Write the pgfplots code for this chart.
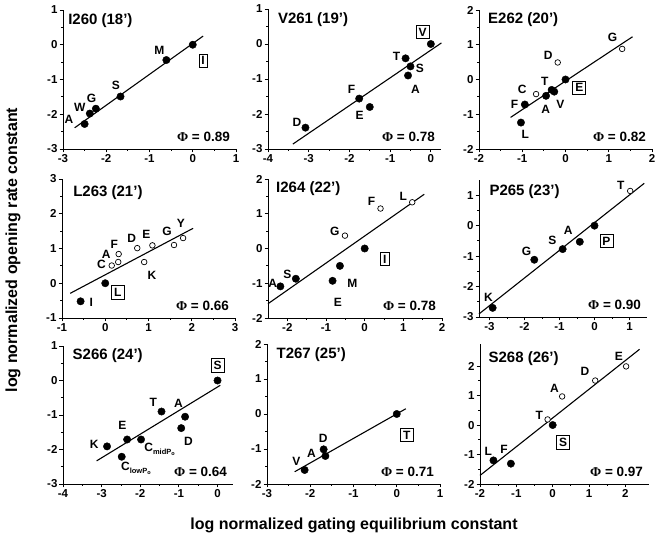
\documentclass[border=0pt]{standalone}
\usepackage{fontspec}
\setmainfont{Liberation Sans}
\newfontfamily\serif{Liberation Serif}
\usepackage{pgfplots}
\pgfplotsset{compat=1.18}

\newcommand\lab[3]{\node[font=\bfseries\fontsize{12}{12}\selectfont] at (axis cs:#1,#2) {#3};}
\newcommand\boxlab[3]{\node[draw, line width=0.7pt, inner sep=2.5pt, font=\bfseries\fontsize{12}{12}\selectfont] at (axis cs:#1,#2) {#3};}
\newcommand\ttl[3]{\node[anchor=west, font=\bfseries\fontsize{15}{15}\selectfont] at (axis cs:#1,#2) {#3};}
\newcommand\phival[1]{\node[anchor=east, font=\bfseries\fontsize{13.5}{13.5}\selectfont] at (rel axis cs:0.985,0.085) {{\serif\bfseries Φ} = #1};}
\newcommand\sub[1]{C\raisebox{-2.5pt}{\fontsize{7.5}{7.5}\selectfont #1P\raisebox{-1.5pt}{\fontsize{5.5}{5.5}\selectfont o}}}

\pgfplotsset{
  panel/.style={
    scale only axis, anchor=south west, clip=false,
    axis lines=left, axis line style={-, line width=0.9pt},
    tick align=outside, minor tick num=1,
    major tick length=3.5pt, minor tick length=2pt,
    every tick/.style={black, line width=0.9pt},
    ticklabel style={font=\bfseries\fontsize{11.5}{11.5}\selectfont},
    /pgf/number format/assume math mode=true,
    xticklabel style={yshift=1.5pt}, yticklabel style={xshift=1.5pt},
  },
  fit/.style={black, line width=1.1pt, no marks},
  full/.style={only marks, mark=*, mark size=3.7pt, mark options={fill=black, draw=black}},
  hollow/.style={only marks, mark=*, mark size=2.8pt, mark options={fill=white, draw=black, line width=0.7pt}},
}

\begin{document}
\begin{tikzpicture}
\path (0pt,0pt) rectangle (662pt,537pt);

% ---------- row 1 ----------
\begin{axis}[panel, at={(63pt,388pt)}, width=173pt, height=139pt,
  xmin=-3, xmax=1, ymin=-3, ymax=1, xtick={-3,...,1}, ytick={-3,...,1}]
\addplot[fit] coordinates {(-2.73,-2.39) (0.24,0.25)};
\addplot[full] coordinates {(0,0) (-0.61,-0.44) (-1.67,-1.49) (-2.24,-1.84) (-2.38,-1.98) (-2.5,-2.28)};
\lab{-0.77}{-0.17}{M} \lab{-1.78}{-1.16}{S} \lab{-2.34}{-1.54}{G} \lab{-2.61}{-1.8}{W} \lab{-2.86}{-2.14}{A}
\boxlab{0.24}{-0.46}{I}
\ttl{-2.96}{0.69}{I260 (18’)}
\phival{0.89}
\end{axis}

\begin{axis}[panel, at={(268pt,388pt)}, width=173pt, height=140pt,
  xmin=-4, xmax=0.25, ymin=-3, ymax=1, xtick={-4,...,0}, ytick={-3,...,1}]
\addplot[fit] coordinates {(-3.39,-2.86) (0.26,0.03)};
\addplot[full] coordinates {(0,0) (-0.62,-0.41) (-0.5,-0.64) (-0.56,-0.9) (-1.76,-1.56) (-1.5,-1.8) (-3.08,-2.39)};
\lab{-0.84}{-0.34}{T} \lab{-0.27}{-0.71}{S} \lab{-0.38}{-1.29}{A} \lab{-1.95}{-1.31}{F} \lab{-1.75}{-2.05}{E} \lab{-3.29}{-2.24}{D}
\boxlab{-0.2}{0.34}{V}
\ttl{-3.84}{0.71}{V261 (19’)}
\phival{0.78}
\end{axis}

\begin{axis}[panel, at={(479pt,388pt)}, width=173pt, height=139pt,
  xmin=-2, xmax=2, ymin=-2, ymax=2, xtick={-2,...,2}, ytick={-2,...,2}]
\addplot[fit] coordinates {(-1.27,-1.09) (1.55,1.23)};
\addplot[full] coordinates {(0,0) (-0.32,-0.3) (-0.26,-0.35) (-0.45,-0.47) (-0.94,-0.72) (-1.03,-1.24)};
\addplot[hollow] coordinates {(-0.68,-0.42) (-0.18,0.49) (1.31,0.88)};
\lab{1.09}{1.21}{G} \lab{-0.4}{0.68}{D} \lab{-0.48}{-0.04}{T} \lab{-1.0}{-0.28}{C} \lab{-1.18}{-0.71}{F}
\lab{-0.46}{-0.85}{A} \lab{-0.12}{-0.71}{V} \lab{-0.93}{-1.57}{L}
\boxlab{0.32}{-0.24}{E}
\ttl{-1.87}{1.71}{E262 (20’)}
\phival{0.82}
\end{axis}

% ---------- row 2 ----------
\begin{axis}[panel, at={(62pt,219pt)}, width=173pt, height=139pt,
  xmin=-1, xmax=3, ymin=-1, ymax=3, xtick={-1,...,3}, ytick={-1,...,3}]
\addplot[fit] coordinates {(-0.81,-0.29) (2.03,1.58)};
\addplot[full] coordinates {(0,0) (-0.57,-0.52)};
\addplot[hollow] coordinates {(0.15,0.51) (0.3,0.61) (0.31,0.84) (0.74,1.01) (1.09,1.09) (0.9,0.61) (1.59,1.1) (1.8,1.3)};
\lab{-0.09}{0.53}{C} \lab{0.02}{0.84}{A} \lab{0.21}{1.13}{F} \lab{0.61}{1.28}{D} \lab{0.95}{1.42}{E}
\lab{1.43}{1.49}{G} \lab{1.75}{1.71}{Y} \lab{1.08}{0.24}{K} \lab{-0.32}{-0.55}{I}
\boxlab{0.29}{-0.26}{L}
\ttl{-0.82}{2.62}{L263 (21’)}
\phival{0.66}
\end{axis}

\begin{axis}[panel, at={(268pt,219pt)}, width=174pt, height=139pt,
  xmin=-2.5, xmax=2, ymin=-2, ymax=2, xtick={-2,...,2}, ytick={-2,...,2}]
\addplot[fit] coordinates {(-2.5,-1.59) (1.54,1.56)};
\addplot[full] coordinates {(0,0) (-0.64,-0.5) (-0.83,-0.93) (-1.78,-0.87) (-2.18,-1.09)};
\addplot[hollow] coordinates {(-0.51,0.37) (0.41,1.15) (1.23,1.33)};
\lab{-2.38}{-0.99}{A} \lab{-2.0}{-0.75}{S} \lab{-0.77}{0.49}{G} \lab{0.18}{1.36}{F} \lab{1.0}{1.5}{L}
\lab{-0.32}{-0.99}{M} \lab{-0.69}{-1.55}{E}
\boxlab{0.52}{-0.3}{I}
\ttl{-2.38}{1.73}{I264 (22’)}
\phival{0.78}
\end{axis}

\begin{axis}[panel, at={(479pt,220pt)}, width=168pt, height=137pt,
  xmin=-3.3, xmax=1.5, ymin=-3, ymax=1.5, xtick={-3,...,1}, ytick={-3,...,1}]
\addplot[fit] coordinates {(-3.3,-2.9) (1.42,1.39)};
\addplot[full] coordinates {(0,0) (-0.42,-0.53) (-0.91,-0.77) (-1.72,-1.12) (-2.91,-2.7)};
\addplot[hollow] coordinates {(1.02,1.14)};
\lab{0.75}{1.33}{T} \lab{-0.75}{-0.17}{A} \lab{-1.2}{-0.49}{S} \lab{-1.94}{-0.85}{G} \lab{-3.03}{-2.36}{K}
\boxlab{0.34}{-0.51}{P}
\ttl{-3.1}{1.11}{P265 (23’)}
\phival{0.90}
\end{axis}

% ---------- row 3 ----------
\begin{axis}[panel, at={(63pt,53pt)}, width=170pt, height=138pt,
  xmin=-4, xmax=0.4, ymin=-3, ymax=1, xtick={-4,...,0}, ytick={-3,...,1}]
\addplot[fit] coordinates {(-3.13,-2.33) (0.07,-0.14)};
\addplot[full] coordinates {(0,0) (-1.45,-0.9) (-0.84,-1.05) (-0.94,-1.38) (-2.34,-1.71) (-1.98,-1.71) (-2.48,-2.21) (-2.86,-1.91)};
\lab{-1.66}{-0.62}{T} \lab{-1.01}{-0.65}{A} \lab{-2.46}{-1.31}{E} \lab{-3.19}{-1.85}{K} \lab{-0.75}{-1.76}{D}
\node[anchor=west, font=\bfseries\fontsize{12}{12}\selectfont, inner sep=0pt] at (axis cs:-1.9,-2.0) {\sub{mid}};
\node[anchor=west, font=\bfseries\fontsize{12}{12}\selectfont, inner sep=0pt] at (axis cs:-2.5,-2.56) {\sub{low}};
\boxlab{0}{0.44}{S}
\ttl{-3.84}{0.71}{S266 (24’)}
\phival{0.64}
\end{axis}

\begin{axis}[panel, at={(267pt,53pt)}, width=173pt, height=140pt,
  xmin=-3, xmax=1, ymin=-2, ymax=2, xtick={-3,...,1}, ytick={-2,...,2}]
\addplot[fit] coordinates {(-2.36,-1.65) (0.21,0.15)};
\addplot[full] coordinates {(0,0) (-1.69,-1.01) (-1.65,-1.2) (-2.13,-1.6)};
\lab{-1.7}{-0.7}{D} \lab{-1.97}{-1.12}{A} \lab{-2.32}{-1.34}{V}
\boxlab{0.23}{-0.6}{T}
\ttl{-2.86}{1.69}{T267 (25’)}
\phival{0.71}
\end{axis}

\begin{axis}[panel, at={(480pt,53pt)}, width=169pt, height=140pt,
  xmin=-2, xmax=2.65, ymin=-2, ymax=2.75, xtick={-2,...,2}, ytick={-2,...,2}]
\addplot[fit] coordinates {(-2,-1.71) (2.39,2.57)};
\addplot[full] coordinates {(0,0) (-1.63,-1.2) (-1.15,-1.31)};
\addplot[hollow] coordinates {(-0.14,0.19) (0.26,0.97) (1.17,1.51) (2.02,1.99)};
\lab{1.82}{2.33}{E} \lab{0.89}{1.83}{D} \lab{0.05}{1.26}{A} \lab{-0.37}{0.34}{T} \lab{-1.77}{-0.89}{L} \lab{-1.34}{-0.81}{F}
\boxlab{0.29}{-0.58}{S}
\ttl{-1.86}{2.25}{S268 (26’)}
\phival{0.97}
\end{axis}

% ---------- shared labels ----------
\node[rotate=90, font=\bfseries\fontsize{16}{16}\selectfont] at (13pt,287pt) {log normalized opening rate constant};
\node[font=\bfseries\fontsize{16}{16}\selectfont] at (354pt,12pt) {log normalized gating equilibrium constant};
\end{tikzpicture}
\end{document}
